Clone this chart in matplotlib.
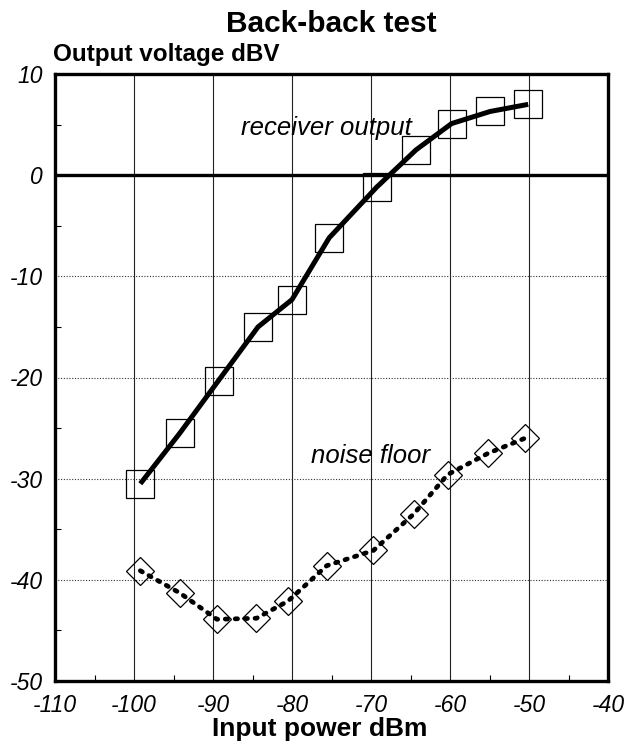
import numpy as np
import matplotlib
matplotlib.use("Agg")
import matplotlib.pyplot as plt
from matplotlib.ticker import MultipleLocator

# ------------------------------------------------------------------
# data
# ------------------------------------------------------------------
rx_power = [-99.2, -94.2, -89.3, -84.3, -80.0, -75.3, -69.3, -64.3, -59.8, -54.9, -50.1]
rx_output = [-30.5, -25.5, -20.3, -15.0, -12.3, -6.2, -1.2, 2.5, 5.1, 6.3, 7.0]

nf_power = [-99.2, -94.2, -89.5, -84.5, -80.5, -75.6, -69.7, -64.6, -60.3, -55.2, -50.5]
nf_level = [-39.1, -41.3, -43.9, -43.8, -42.1, -38.6, -37.1, -33.5, -29.6, -27.5, -26.0]

xticks = [-110, -100, -90, -80, -70, -60, -50, -40]
yticks = [10, 0, -10, -20, -30, -40, -50]

# ------------------------------------------------------------------
# plot
# ------------------------------------------------------------------
plt.rcParams["font.family"] = ["Liberation Sans", "DejaVu Sans"]
plt.rcParams["axes.unicode_minus"] = False

fig = plt.figure(figsize=(6.27, 7.42), dpi=100)
ax = fig.add_axes([55 / 627, 1 - 681 / 742, 553 / 627, 607 / 742])

ax.set_xlim(-110, -40)
ax.set_ylim(-50, 10)

# grid: solid vertical lines, dotted horizontal lines, heavy zero line
for x in xticks[1:-1]:
    ax.axvline(x, color="#222222", lw=0.8, zorder=1)
for y in yticks[2:-1]:
    ax.axhline(y, color="#333333", lw=0.8, ls=(0, (1, 1.5)), zorder=1)
ax.axhline(0, color="black", lw=2.4, zorder=2)

ax.plot(rx_power, rx_output, color="black", lw=3.6, solid_capstyle="butt", zorder=4)
ax.plot(rx_power, rx_output, ls="none", marker="s", ms=20, mfc="none",
        mec="black", mew=0.9, zorder=3)

ax.plot(nf_power, nf_level, color="black", lw=3.4, ls=(0, (0.5, 1.6)),
        dash_capstyle="round", zorder=4)
ax.plot(nf_power, nf_level, ls="none", marker="D", ms=14, mfc="none",
        mec="black", mew=0.9, zorder=3)

ax.text(-75.6, 4.0, "receiver output", style="italic", fontsize=18.5,
        ha="center", va="baseline")
ax.text(-70.0, -28.5, "noise floor", style="italic", fontsize=18.5,
        ha="center", va="baseline")

ax.set_xticks(xticks)
ax.set_yticks(yticks)
ax.set_xticklabels([str(v) for v in xticks], style="italic", fontsize=16.5)
ax.set_yticklabels([str(v) for v in yticks], style="italic", fontsize=16.5)
ax.xaxis.set_minor_locator(MultipleLocator(5))
ax.yaxis.set_minor_locator(MultipleLocator(5))
ax.tick_params(which="major", length=0, pad=9)
ax.tick_params(which="minor", direction="in", length=4, width=0.8,
               top=False, right=False)

for s in ax.spines.values():
    s.set_linewidth(2.4)

fig.text(331 / 627, 1 - 32 / 742, "Back-back test", fontsize=21.5,
         fontweight="bold", ha="center", va="baseline")
fig.text(53 / 627, 1 - 61 / 742, "Output voltage dBV", fontsize=17.5,
         fontweight="bold", ha="left", va="baseline")
fig.text(320 / 627, 1 - 736 / 742, "Input power dBm", fontsize=19,
         fontweight="bold", ha="center", va="baseline")

fig.savefig("out.png", dpi=100)
